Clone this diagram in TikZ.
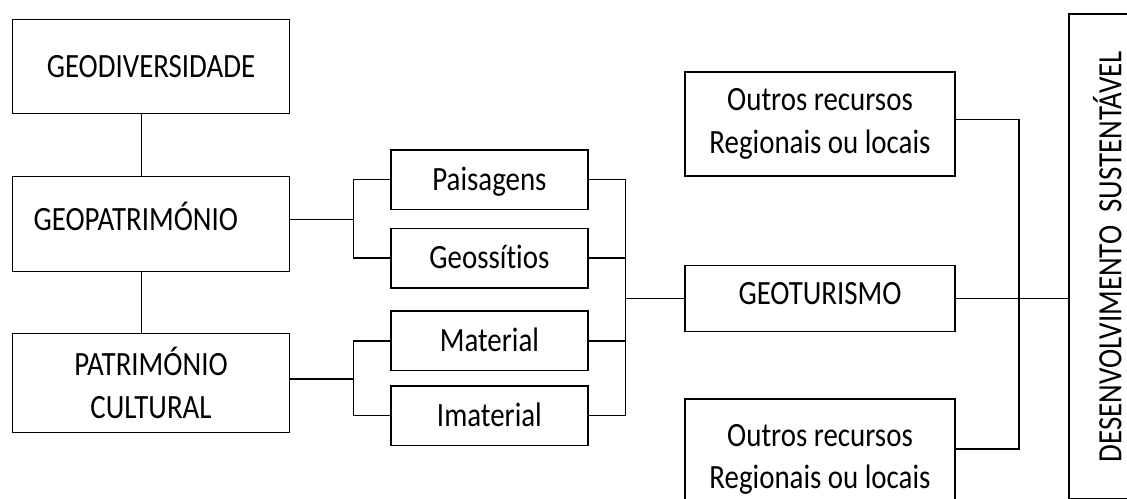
\documentclass[tikz,border=0pt]{standalone}
\usepackage{fontspec}
\setmainfont{Carlito}[FakeStretch=0.85, Ligatures=NoCommon]

\begin{document}
\begin{tikzpicture}[x=1pt, y=-1pt, line width=1.5pt,
  box/.style={draw, inner sep=0pt, align=center, font=\fontsize{34}{42.5}\selectfont},
  oneline/.style={text height=21.5pt, text depth=0pt},
  raised/.style={text height=21.5pt, text depth=9pt}]

  % canvas
  \useasboundingbox (0,0) rectangle (1127,498);
  \clip (0,0) rectangle (1127,498);

  % left column
  \node[box, oneline, minimum width=276.6, minimum height=94] (geodiv) at (151,66.3) {GEODIVERSIDADE};
  \node[box, raised, minimum width=276.6, minimum height=95, text width=234.6pt,
        align=left, inner xsep=21pt] (geopat) at (151,224.2) {GEOPATRIMÓNIO};
  \node[box, minimum width=276.6, minimum height=99] (patcul) at (151,382.8) {PATRIMÓNIO\\CULTURAL};

  % middle column
  \node[box, oneline, minimum width=196.7, minimum height=59.5] (paisagens) at (489.4,179.7) {Paisagens};
  \node[box, oneline, minimum width=196.7, minimum height=59.5] (geossitios) at (489.4,258) {Geossítios};
  \node[box, oneline, minimum width=196.7, minimum height=59.5] (material) at (489.4,340.8) {Material};
  \node[box, oneline, minimum width=196.7, minimum height=59.5] (imaterial) at (489.4,415.5) {Imaterial};

  % right column
  \node[box, minimum width=270, minimum height=104.3] (outrosA) at (820,123.9) {Outros recursos\\Regionais ou locais};
  \node[box, raised, minimum width=270, minimum height=65.8] (geoturismo) at (820,298.6) {GEOTURISMO};
  \node[box, minimum width=270, minimum height=120] (outrosB) at (820,459.2) {Outros recursos\\Regionais ou locais};

  % sustainable development
  \node[box, oneline, rotate=90, minimum width=485, minimum height=83] (desenv) at (1110.5,256.5)
    {DESENVOLVIMENTO~~SUSTENTÁVEL};

  % junctions
  \coordinate (spine) at (141.7,0);
  \coordinate (jGeo) at (353.3,219.3);
  \coordinate (jPat) at (353.3,379);
  \coordinate (jMid) at (625.7,298.6);
  \coordinate (jOutA) at (1019,119.3);
  \coordinate (jOutB) at (1019,449);

  % left spine
  \draw (geodiv.south -| spine) -- (geopat.north -| spine);
  \draw (geopat.south -| spine) -- (patcul.north -| spine);

  % brackets to the middle column
  \draw (geopat.east |- jGeo) -- (jGeo);
  \draw (paisagens.west) -| (jGeo) |- (geossitios.west);
  \draw (patcul.east |- jPat) -- (jPat);
  \draw (material.west) -| (jPat) |- (imaterial.west);

  % bracket to geoturismo
  \draw (paisagens.east) -| (jMid) |- (imaterial.east);
  \draw (geossitios.east) -- (geossitios.east -| jMid);
  \draw (material.east) -- (material.east -| jMid);
  \draw (geoturismo.west -| jMid) -- (geoturismo.west);

  % bracket to sustainable development
  \draw (jOutA -| outrosA.east) -- (jOutA) -- (jOutB) -- (jOutB -| outrosB.east);
  \draw (geoturismo.east) -- (geoturismo.east -| desenv.north);

\end{tikzpicture}
\end{document}
